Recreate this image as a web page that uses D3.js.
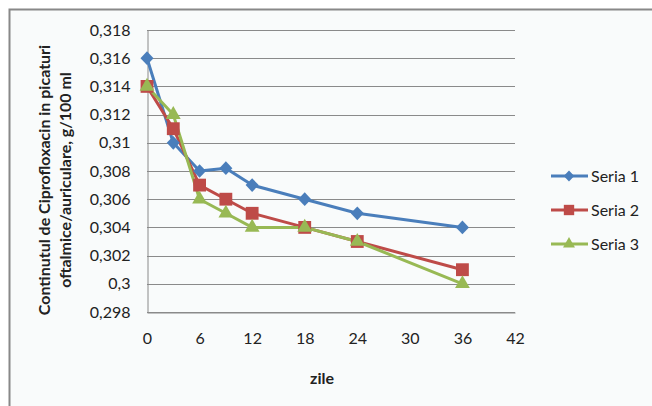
<!DOCTYPE html>
<html><head><meta charset="utf-8">
<script src="https://cdn.jsdelivr.net/npm/d3@7"></script>
<style>body{margin:0;background:#fff}svg{display:block}</style>
</head><body><svg id="c" width="652" height="406"></svg>
<script>
const days = [0, 3, 6, 9, 12, 18, 24, 36];
const seria1 = [0.316, 0.310, 0.308, 0.3082, 0.307, 0.306, 0.305, 0.304];
const seria2 = [0.314, 0.311, 0.307, 0.306, 0.305, 0.304, 0.303, 0.301];
const seria3 = [0.314, 0.312, 0.306, 0.305, 0.304, 0.304, 0.303, 0.300];
const seriesNames = ["Seria 1", "Seria 2", "Seria 3"];
const xTicks = [0, 6, 12, 18, 24, 30, 36, 42];
const yTicks = [0.298, 0.300, 0.302, 0.304, 0.306, 0.308, 0.310, 0.312, 0.314, 0.316, 0.318];
const xTitle = "zile";
const yTitle = ["Continutul de Ciprofloxacin in picaturi", "oftalmice/auriculare, g/100 ml"];

const colors = ["#4a7ebb", "#be4b48", "#98b954"];
const font = "Lato, 'Open Sans', sans-serif";
const fs = 16;
const svg = d3.select("#c");
svg.append("rect").attr("x", 9.5).attr("y", 9.5).attr("width", 660).attr("height", 420)
  .attr("fill", "#f9fbfb").attr("stroke", "#888").attr("stroke-width", 2);

const L = 147, R = 515, T = 30, B = 312;
const x = d3.scaleLinear().domain([0, 42]).range([L, R]);
const y = d3.scaleLinear().domain([0.298, 0.318]).range([B, T]);
const fmt = v => d3.format("")(+v.toFixed(3)).replace(".", ",");

svg.append("g").selectAll("line").data(yTicks).join("line")
  .attr("x1", L).attr("x2", R).attr("y1", d => Math.round(y(d)) + 0.5).attr("y2", d => Math.round(y(d)) + 0.5)
  .attr("stroke", "#8a8a8a").attr("stroke-width", 1);

const yAxis = svg.append("g").attr("transform", `translate(${L + 0.5},0)`)
  .call(d3.axisLeft(y).tickValues(yTicks).tickFormat(fmt).tickSize(0).tickPadding(17));
yAxis.select(".domain").attr("stroke", "#8a8a8a");
yAxis.selectAll("text").attr("font-family", font).attr("font-size", fs).attr("fill", "#222");

const xAxis = svg.append("g").attr("transform", `translate(0,${B + 0.5})`)
  .call(d3.axisBottom(x).tickValues(xTicks).tickSize(0).tickPadding(20));
xAxis.select(".domain").attr("stroke", "#8a8a8a");
xAxis.selectAll("text").attr("font-family", font).attr("font-size", fs).attr("fill", "#222");

const diamond = { draw(ctx, size) { const r = Math.sqrt(size / 2); ctx.moveTo(0, -r * 1.05); ctx.lineTo(r, 0); ctx.lineTo(0, r * 1.05); ctx.lineTo(-r, 0); ctx.closePath(); } };
const all = [seria1, seria2, seria3];
const line = d3.line().x((d, i) => x(days[i])).y(d => y(d));
const sym = [diamond, d3.symbolSquare, d3.symbolTriangle];
const symSize = [85, 165, 95];

all.forEach((s, k) => {
  svg.append("path").datum(s).attr("d", line).attr("fill", "none")
    .attr("stroke", colors[k]).attr("stroke-width", 3).attr("stroke-linejoin", "round");
});
all.forEach((s, k) => {
  svg.append("g").selectAll("path").data(s).join("path")
    .attr("d", d3.symbol().type(sym[k]).size(symSize[k]))
    .attr("transform", (d, i) => `translate(${x(days[i])},${y(d)})`)
    .attr("fill", colors[k]);
});

const ly = [176, 210, 244];
seriesNames.forEach((n, k) => {
  const g = svg.append("g").attr("transform", `translate(551,${ly[k]})`);
  g.append("line").attr("x1", 0).attr("x2", 37).attr("stroke", colors[k]).attr("stroke-width", 3);
  g.append("path").attr("d", d3.symbol().type(sym[k]).size(symSize[k] * 0.65)).attr("transform", "translate(18,0)").attr("fill", colors[k]);
  g.append("text").attr("x", 40).attr("y", 5.5).text(n).attr("font-family", font).attr("font-size", fs).attr("fill", "#222");
});

svg.append("text").attr("x", 322).attr("y", 384).attr("text-anchor", "middle")
  .attr("font-family", font).attr("font-size", fs).attr("font-weight", "bold").attr("fill", "#222").text(xTitle);

const yt = svg.append("text").attr("transform", `translate(50,${(T + B) / 2 + 9}) rotate(-90)`)
  .attr("text-anchor", "middle").attr("font-family", font).attr("font-size", fs).attr("font-weight", "bold").attr("fill", "#222");
yTitle.forEach((t, i) => yt.append("tspan").attr("x", 0).attr("dy", i ? 21 : 0).text(t));
</script></body></html>
